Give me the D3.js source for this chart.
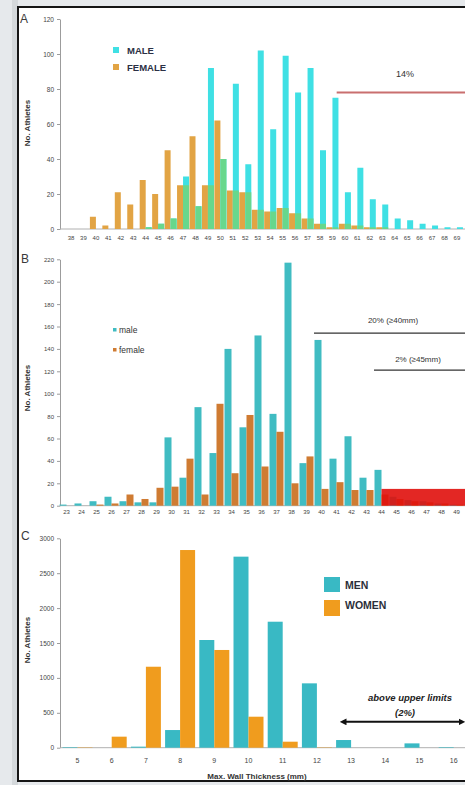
<!DOCTYPE html>
<html>
<head>
<meta charset="utf-8">
<script src="https://cdn.jsdelivr.net/npm/d3@7"></script>
<style>
  html, body { margin: 0; padding: 0; background: #e6e9ec; overflow: hidden; }
  svg { display: block; }
</style>
</head>
<body>
<svg id="fig" width="465" height="785"></svg>
<script>
// ---- Panel A: LV end-diastolic cavity dimension (mm), male vs female
const catsA = d3.range(38, 71).map(String);
const maleA = [0,0,0,0,0,0,1,3,6,30,13,92,40,83,37,102,57,99,78,92,45,75,21,35,17,14,6,5,3,2,1,1,0];
const femaleA = [0,0,7,2,21,14,28,20,45,25,53,25,62,22,21,11,10,12,9,6,3,1,3,2,1,1,0,0,0,0,0,0,0];
const ticksA = [0, 20, 40, 60, 80, 100, 120];

// ---- Panel B: left atrial dimension (mm), male vs female
const catsB = d3.range(23, 51).map(String);
const maleB = [1,2,4,8,4,3,3,61,25,88,47,140,70,152,82,217,38,148,42,62,25,32,8,5,4,2,1,1];
const femaleB = [0,0,1,2,10,6,16,17,42,10,91,29,81,35,66,20,44,15,21,14,14,10,6,4,3,2,1,1];
const ticksB = d3.range(0, 221, 20);

// ---- Panel C: maximal wall thickness (mm), men vs women
const catsC = d3.range(5, 17).map(String);
const menC = [8,0,15,253,1543,2737,1805,922,110,0,62,8];
const womenC = [5,158,1160,2832,1400,444,86,5,0,0,0,0];
const ticksC = [0, 500, 1000, 1500, 2000, 2500, 3000];

const FONT = "'Liberation Sans', Arial, sans-serif";
const svg = d3.select("#fig").attr("font-family", FONT);

// page and figure frame
svg.append("rect").attr("width", 465).attr("height", 785).attr("fill", "#e6e9ec");
svg.append("rect").attr("x", 12).attr("y", 0).attr("width", 6).attr("height", 785).attr("fill", "#d4d8db");
svg.append("rect").attr("x", 18).attr("y", 7).attr("width", 490).attr("height", 774)
  .attr("fill", "#fff").attr("stroke", "#151515").attr("stroke-width", 2);

const AXIS_X = 60;
const bandScale = (cats, first, step) =>
  d3.scaleBand().domain(cats).range([first - step / 2, first - step / 2 + step * cats.length]).padding(0);

function yAxis(y, ticks, fs) {
  const g = svg.append("g").attr("transform", `translate(${AXIS_X},0)`)
    .call(d3.axisLeft(y).tickValues(ticks).tickFormat(d3.format("d"))
      .tickSize(3).tickPadding(3).tickSizeOuter(0));
  g.attr("font-family", FONT).attr("font-size", fs);
  g.select(".domain").attr("stroke", "#9c9c9c");
  g.selectAll(".tick line").attr("stroke", "#9c9c9c");
  g.selectAll(".tick text").attr("fill", "#444");
  return g;
}
function xAxis(x, y0, fs, pad) {
  svg.append("line").attr("x1", AXIS_X).attr("x2", 470).attr("y1", y0).attr("y2", y0)
    .attr("stroke", "#b0b0b0").attr("stroke-width", 1);
  const g = svg.append("g").attr("transform", `translate(0,${y0})`)
    .call(d3.axisBottom(x).tickSize(0).tickPadding(pad));
  g.attr("font-family", FONT).attr("font-size", fs);
  g.select(".domain").remove();
  g.selectAll(".tick text").attr("fill", "#444");
  return g;
}
function panelLetter(t, x, y) {
  svg.append("text").attr("x", x).attr("y", y).text(t)
    .attr("font-size", 12).attr("fill", "#3a3a3a");
}
function yTitle(cx, cy) {
  svg.append("text").attr("transform", `translate(${cx},${cy}) rotate(-90)`)
    .attr("text-anchor", "middle").attr("font-size", 8).attr("font-weight", "bold")
    .attr("fill", "#333").text("No. Athletes");
}

// ================= Panel A =================
{
  const x = bandScale(catsA, 71, 12.45);
  const y = d3.scaleLinear().domain([0, 120]).range([229, 19]);
  const rows = catsA.map((c, i) => ({ c, m: maleA[i], f: femaleA[i] }));
  const bw = 6, off = 3;
  const cx = c => x(c) + x.bandwidth() / 2;

  yAxis(y, ticksA, 6.5);
  xAxis(x, y(0), 6, 7);
  panelLetter("A", 20, 23);
  yTitle(30, 123);

  const g = svg.append("g");
  g.selectAll(".fa").data(rows).join("rect")
    .attr("x", d => cx(d.c) - off - bw / 2).attr("width", bw)
    .attr("y", d => y(d.f)).attr("height", d => y(0) - y(d.f))
    .attr("fill", "#e2a444");
  g.selectAll(".ma").data(rows).join("rect")
    .attr("x", d => cx(d.c) + off - bw / 2).attr("width", bw)
    .attr("y", d => y(d.m)).attr("height", d => y(0) - y(d.m))
    .attr("fill", "#3fe0e4");
  // shared portion of both sexes shown in the blended colour
  g.selectAll(".oa").data(rows).join("rect")
    .attr("x", d => cx(d.c) + off - bw / 2).attr("width", bw)
    .attr("y", d => y(Math.min(d.m, d.f))).attr("height", d => y(0) - y(Math.min(d.m, d.f)))
    .attr("fill", "#68d78c");

  // legend
  const lg = svg.append("g").attr("font-size", 9.5).attr("font-weight", "bold").attr("fill", "#2b3044");
  lg.append("rect").attr("x", 113).attr("y", 47).attr("width", 6).attr("height", 6).attr("fill", "#3fe0e4");
  lg.append("text").attr("x", 127).attr("y", 53.5).text("MALE");
  lg.append("rect").attr("x", 113).attr("y", 64).attr("width", 6).attr("height", 6).attr("fill", "#e2a444");
  lg.append("text").attr("x", 127).attr("y", 70.5).text("FEMALE");

  // proportion above 60 mm
  svg.append("line").attr("x1", x("60") - 2).attr("x2", 470).attr("y1", y(78)).attr("y2", y(78))
    .attr("stroke", "#c96f6f").attr("stroke-width", 2);
  svg.append("text").attr("x", 405).attr("y", y(87)).attr("text-anchor", "middle")
    .attr("font-size", 9).attr("fill", "#333").text("14%");
}

// ================= Panel B =================
{
  const x = bandScale(catsB, 66.5, 15);
  const y = d3.scaleLinear().domain([0, 220]).range([505.7, 259.3]);
  const rows = catsB.map((c, i) => ({ c, m: maleB[i], f: femaleB[i] }));
  const bw = 7, off = 3.5;
  const cx = c => x(c) + x.bandwidth() / 2;

  yAxis(y, ticksB, 6);
  xAxis(x, y(0), 6, 4);
  panelLetter("B", 21, 263);
  yTitle(30, 388);

  const g = svg.append("g");
  g.selectAll(".mb").data(rows).join("rect")
    .attr("x", d => cx(d.c) - off - bw / 2).attr("width", bw)
    .attr("y", d => y(d.m)).attr("height", d => y(0) - y(d.m))
    .attr("fill", "#40bcc2");
  g.selectAll(".fb").data(rows).join("rect")
    .attr("x", d => cx(d.c) + off - bw / 2).attr("width", bw)
    .attr("y", d => y(d.f)).attr("height", d => y(0) - y(d.f))
    .attr("fill", "#cf7b32");

  // highlighted upper tail of the distribution
  svg.append("rect").attr("x", cx("44")).attr("width", 470 - cx("44"))
    .attr("y", y(15)).attr("height", y(0) - y(15))
    .attr("fill", "#e0100c").attr("fill-opacity", 0.9);

  // legend
  const lg = svg.append("g").attr("font-size", 8.5).attr("fill", "#333");
  lg.append("rect").attr("x", 113).attr("y", 328).attr("width", 3.5).attr("height", 3.5).attr("fill", "#40bcc2");
  lg.append("text").attr("x", 119).attr("y", 333).text("male");
  lg.append("rect").attr("x", 113).attr("y", 348).attr("width", 3.5).attr("height", 3.5).attr("fill", "#cf7b32");
  lg.append("text").attr("x", 119).attr("y", 353).text("female");

  // cut-off annotations
  svg.append("line").attr("x1", x("40")).attr("x2", 470).attr("y1", y(154)).attr("y2", y(154))
    .attr("stroke", "#333").attr("stroke-width", 1.3);
  svg.append("text").attr("x", 393).attr("y", y(163)).attr("text-anchor", "middle")
    .attr("font-size", 8).attr("fill", "#333").text("20% (≥40mm)");
  svg.append("line").attr("x1", x("44")).attr("x2", 470).attr("y1", y(121)).attr("y2", y(121))
    .attr("stroke", "#333").attr("stroke-width", 1.3);
  svg.append("text").attr("x", 418).attr("y", y(128)).attr("text-anchor", "middle")
    .attr("font-size", 8).attr("fill", "#333").text("2% (≥45mm)");
}

// ================= Panel C =================
{
  const x = bandScale(catsC, 77.5, 34.2);
  const y = d3.scaleLinear().domain([0, 3000]).range([747.7, 538.3]);
  const rows = catsC.map((c, i) => ({ c, m: menC[i], w: womenC[i] }));
  const bw = 15, off = 7.5;
  const cx = c => x(c) + x.bandwidth() / 2;

  yAxis(y, ticksC, 6.5);
  xAxis(x, y(0), 7, 10);
  panelLetter("C", 21, 540);
  yTitle(30, 640);

  const g = svg.append("g");
  g.selectAll(".mc").data(rows).join("rect")
    .attr("x", d => cx(d.c) - off - bw / 2).attr("width", bw)
    .attr("y", d => y(d.m)).attr("height", d => y(0) - y(d.m))
    .attr("fill", "#39b9c4");
  g.selectAll(".wc").data(rows).join("rect")
    .attr("x", d => cx(d.c) + off - bw / 2).attr("width", bw)
    .attr("y", d => y(d.w)).attr("height", d => y(0) - y(d.w))
    .attr("fill", "#f09c1e");

  svg.append("text").attr("x", 257).attr("y", 779).attr("text-anchor", "middle")
    .attr("font-size", 8).attr("font-weight", "bold").attr("fill", "#333")
    .text("Max. Wall Thickness (mm)");

  // legend
  const lg = svg.append("g").attr("font-size", 10.5).attr("font-weight", "bold").attr("fill", "#2b2f3a");
  lg.append("rect").attr("x", 324).attr("y", 577).attr("width", 16).attr("height", 15).attr("fill", "#39b9c4");
  lg.append("text").attr("x", 345).attr("y", 588.5).text("MEN");
  lg.append("rect").attr("x", 324).attr("y", 600).attr("width", 16).attr("height", 16).attr("fill", "#f09c1e");
  lg.append("text").attr("x", 345).attr("y", 609).text("WOMEN");

  // upper-limit arrow
  const defs = svg.append("defs");
  ["s", "e"].forEach(k => {
    defs.append("marker").attr("id", "ah-" + k).attr("viewBox", "0 0 10 10")
      .attr("refX", 5).attr("refY", 5).attr("markerWidth", 3.4).attr("markerHeight", 3.4)
      .attr("orient", "auto-start-reverse")
      .append("path").attr("d", "M0,0 L10,5 L0,10 Z").attr("fill", "#111");
  });
  svg.append("line").attr("x1", cx("13") - 8).attr("x2", 462).attr("y1", y(370)).attr("y2", y(370))
    .attr("stroke", "#111").attr("stroke-width", 2)
    .attr("marker-start", "url(#ah-s)").attr("marker-end", "url(#ah-e)");
  const at = svg.append("g").attr("font-size", 9.5).attr("font-weight", "bold")
    .attr("font-style", "italic").attr("fill", "#222").attr("text-anchor", "middle");
  at.append("text").attr("x", 410).attr("y", y(665)).text("above upper limits");
  at.append("text").attr("x", 405).attr("y", y(460)).text("(2%)");
}
</script>
</body>
</html>
